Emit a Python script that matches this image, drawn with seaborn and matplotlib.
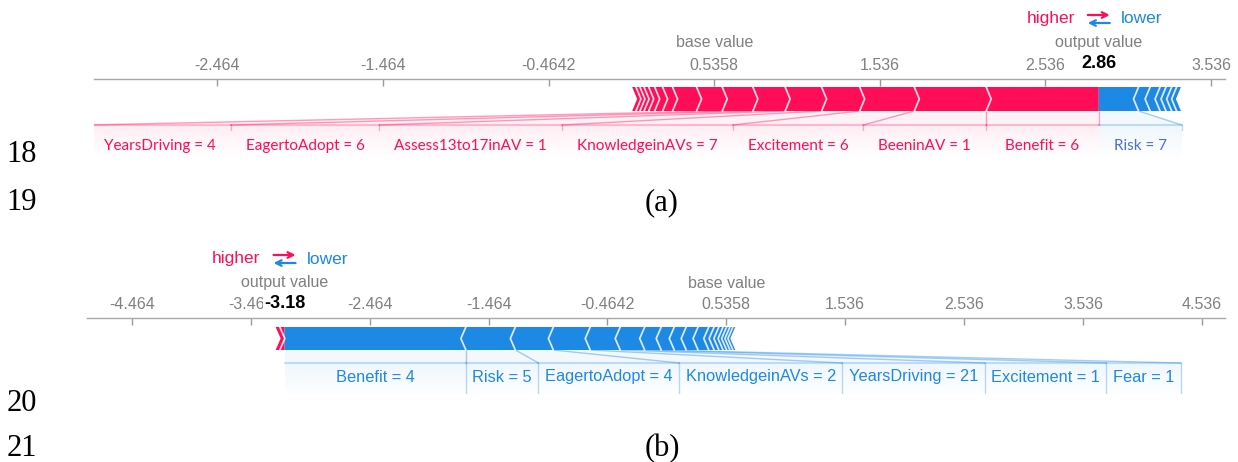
import matplotlib
matplotlib.use('Agg')

import numpy as np
import seaborn as sns
import matplotlib.pyplot as plt
from matplotlib.patches import Polygon
from matplotlib.colors import to_rgb

sns.set_theme(style='white')
plt.rcParams['font.family'] = ['Liberation Sans', 'DejaVu Sans']

RED = '#ff0d57'
BLUE = '#1e88e5'
GREY = '#808080'

# ---- (a) ----
base_a = 0.5358
pos_names_a = ['Benefit = 6', 'BeeninAV = 1', 'Excitement = 6', 'KnowledgeinAVs = 7',
               'Assess13to17inAV = 1', 'EagertoAdopt = 6', 'YearsDriving = 4']
pos_vals_a = [0.68, 0.434, 0.33, 0.23, 0.22, 0.195, 0.185]
pos_small_a = [0.155, 0.145, 0.06, 0.048, 0.036, 0.028, 0.025, 0.024, 0.023]
neg_names_a = ['Risk = 7']
neg_vals_a = [0.24]
neg_small_a = [0.07, 0.06, 0.036, 0.034, 0.03, 0.026]

# ---- (b) ----
base_b = 0.5358
pos_names_b = []
pos_vals_b = []
pos_small_b = [0.04, 0.035]
neg_names_b = ['Benefit = 4', 'Risk = 5', 'EagertoAdopt = 4', 'KnowledgeinAVs = 2',
               'YearsDriving = 21', 'Excitement = 1', 'Fear = 1']
neg_vals_b = [1.525, 0.416, 0.32, 0.31, 0.252, 0.206, 0.139]
neg_small_b = [0.11, 0.10, 0.10, 0.09, 0.045, 0.04, 0.035, 0.03, 0.028, 0.025, 0.02]

W, H = 1238, 462
fig = plt.figure(figsize=(W / 100, H / 100), dpi=100)
renderer = fig.canvas.get_renderer()


def gradient(ax, l, r, y_top, y_bot, color, a0):
    g = np.zeros((60, 1, 4))
    g[..., :3] = to_rgb(color)
    g[:, 0, 3] = np.linspace(a0, 0.0, 60)
    ax.imshow(g, extent=(l, r, y_bot, y_top), origin='upper', aspect='auto',
              interpolation='bilinear', zorder=1)


def force_plot(px, xlim, base, pos_names, pos_vals, pos_small,
               neg_names, neg_vals, neg_small, lay):
    x0, x1, y0, h = px
    ax = fig.add_axes([x0 / W, 1 - (y0 + h) / H, (x1 - x0) / W, h / H])
    ppu = (x1 - x0) / (xlim[1] - xlim[0])  # pixels per unit
    out = base + sum(pos_vals) + sum(pos_small) - sum(neg_vals) - sum(neg_small)
    chev = 5 / ppu
    top, bot = lay['bar']
    mid = (top + bot) / 2
    btop, tby, bbot = lay['box_top'], lay['text_y'], lay['band_bot']

    # red segments, from the output value to the left
    segs_pos = []
    edge = out
    for v in list(pos_vals) + list(pos_small):
        segs_pos.append((edge - v, edge))
        edge -= v
    for k, (a, b) in enumerate(segs_pos):
        tip = b + chev if k > 0 else b
        ax.add_patch(Polygon([(a, top), (b, top), (tip, mid), (b, bot), (a, bot), (a + chev, mid)],
                             closed=True, facecolor=RED, edgecolor='none', zorder=3))
    for k, (a, b) in enumerate(segs_pos):
        if k > 0:
            ax.plot([b, b + chev, b], [top, mid, bot], color='white', alpha=0.8, lw=1.3, zorder=4)

    # blue segments, from the output value to the right
    segs_neg = []
    edge = out
    for v in list(neg_vals) + list(neg_small):
        segs_neg.append((edge, edge + v))
        edge += v
    for k, (a, b) in enumerate(segs_neg):
        tail = a - chev if k > 0 else a
        ax.add_patch(Polygon([(a, top), (b, top), (b - chev, mid), (b, bot), (a, bot), (tail, mid)],
                             closed=True, facecolor=BLUE, edgecolor='none', zorder=3))
    for k, (a, b) in enumerate(segs_neg):
        if k > 0:
            ax.plot([a, a - chev, a], [top, mid, bot], color='white', alpha=0.8, lw=1.3, zorder=4)

    # labels for the red features
    pad = lay['pad'] / ppu
    edge = out
    for (a, b), name in zip(segs_pos, pos_names):
        t = ax.text(0, tby, name, ha='center', va='center', color=lay['pos_col'],
                    fontsize=lay['fs'], family=lay['font'], zorder=5)
        w = t.get_window_extent(renderer).width / ppu + pad
        left = min(a, edge - w)
        t.set_x((left + edge) / 2)
        ax.add_patch(Polygon([(a, bot), (b, bot), (edge, btop), (left, btop)],
                             facecolor=RED, alpha=0.05, edgecolor='none', zorder=1))
        ax.plot([a, left], [bot, btop], color=RED, alpha=0.4, lw=1, zorder=2)
        ax.plot([left, edge], [btop, btop], color=RED, alpha=0.25, lw=1.5, zorder=2)
        ax.plot([left, left], [btop, btop + lay['edge_len']], color=RED, alpha=0.3, lw=1, zorder=2)
        edge = left
    if pos_names:
        ax.plot([out, out], [bot, btop], color=RED, alpha=0.35, lw=1, zorder=2)
        gradient(ax, edge, out, btop, bbot, RED, 0.07)

    # labels for the blue features
    edge = out
    for (a, b), name in zip(segs_neg, neg_names):
        t = ax.text(0, tby, name, ha='center', va='center', color=lay['neg_col'],
                    fontsize=lay['fs'], family=lay['font'], zorder=5)
        w = t.get_window_extent(renderer).width / ppu + pad
        right = max(b, edge + w)
        t.set_x((edge + right) / 2)
        ax.add_patch(Polygon([(a, bot), (b, bot), (right, btop), (edge, btop)],
                             facecolor=BLUE, alpha=0.05, edgecolor='none', zorder=1))
        ax.plot([b, right], [bot, btop], color=BLUE, alpha=0.4, lw=1, zorder=2)
        ax.plot([edge, right], [btop, btop], color=BLUE, alpha=0.25, lw=1.5, zorder=2)
        ax.plot([right, right], [btop, btop + lay['edge_len']], color=BLUE, alpha=0.3, lw=1, zorder=2)
        edge = right
    if neg_names:
        gradient(ax, out, edge, btop, bbot, BLUE, 0.07)

    # axis on top
    ticks = base + np.arange(np.ceil(xlim[0] - base), np.floor(xlim[1] - base) + 1)
    ax.set_xticks(ticks)
    ax.set_xticklabels([f'{t:.4g}' for t in ticks])
    ax.set_yticks([])
    ax.xaxis.tick_top()
    ax.tick_params(axis='x', direction='in', length=5, width=1, color='#999999',
                   labelcolor=GREY, labelsize=11.5, pad=4.5)
    for s in ['left', 'right', 'bottom']:
        ax.spines[s].set_visible(False)
    ax.spines['top'].set_color('#a8a8a8')
    ax.spines['top'].set_linewidth(1)
    ax.set_xlim(*xlim)
    ax.set_ylim(h, 0)

    # annotations above the axis
    ax.text(base, lay['name_y'], 'base value', ha='center', va='center', color=GREY,
            fontsize=11.5, clip_on=False)
    ax.text(out, lay['name_y'], 'output value', ha='center', va='center', color=GREY,
            fontsize=11.5, clip_on=False)
    ax.text(out, lay['tick_y'], f'{out:.2f}', ha='center', va='center', color='black',
            fontsize=13, fontweight='bold', clip_on=False, zorder=6,
            bbox=dict(facecolor='white', edgecolor='none', pad=0.6))
    hy = lay['hl_y']
    ax.text(out - 24 / ppu, hy, 'higher', ha='right', va='center', color=RED,
            fontsize=12.5, clip_on=False)
    ax.text(out + 22 / ppu, hy, 'lower', ha='left', va='center', color=BLUE,
            fontsize=12.5, clip_on=False)
    ax.annotate('', xy=(out + 11 / ppu, hy - 4), xytext=(out - 11 / ppu, hy - 4),
                arrowprops=dict(arrowstyle='->', color=RED, lw=1.6, mutation_scale=10,
                                shrinkA=0, shrinkB=0),
                annotation_clip=False)
    ax.annotate('', xy=(out - 11 / ppu, hy + 4), xytext=(out + 11 / ppu, hy + 4),
                arrowprops=dict(arrowstyle='->', color=BLUE, lw=1.6, mutation_scale=10,
                                shrinkA=0, shrinkB=0),
                annotation_clip=False)
    return ax


lay_a = dict(bar=(8, 32), box_top=46, text_y=67, band_bot=80, pad=30, edge_len=5,
             fs=11, font=['Lato', 'DejaVu Sans'], pos_col=RED, neg_col='#4d72c4',
             name_y=-36, tick_y=-15, hl_y=-60)
lay_b = dict(bar=(9, 32), box_top=45, text_y=59, band_bot=80, pad=13, edge_len=30,
             fs=11.8, font=['Liberation Sans', 'DejaVu Sans'], pos_col=RED, neg_col=BLUE,
             name_y=-35, tick_y=-14, hl_y=-59)

force_plot((94, 1225, 79, 92), (-3.21, 3.62), base_a, pos_names_a, pos_vals_a, pos_small_a,
           neg_names_a, neg_vals_a, neg_small_a, lay_a)
force_plot((87, 1225, 318, 90), (-4.842, 4.73), base_b, pos_names_b, pos_vals_b, pos_small_b,
           neg_names_b, neg_vals_b, neg_small_b, lay_b)

# document line numbers and captions
serif = dict(family=['Liberation Serif', 'DejaVu Serif'], fontsize=22, color='black',
             ha='center', va='baseline')
for txt, x, y in [('18', 22, 162), ('19', 22, 210), ('(a)', 662, 210),
                  ('20', 22, 411), ('21', 22, 456), ('(b)', 662, 456)]:
    fig.text(x / W, 1 - y / H, txt, **serif)

fig.savefig('out.png', dpi=100)
plt.close(fig)
